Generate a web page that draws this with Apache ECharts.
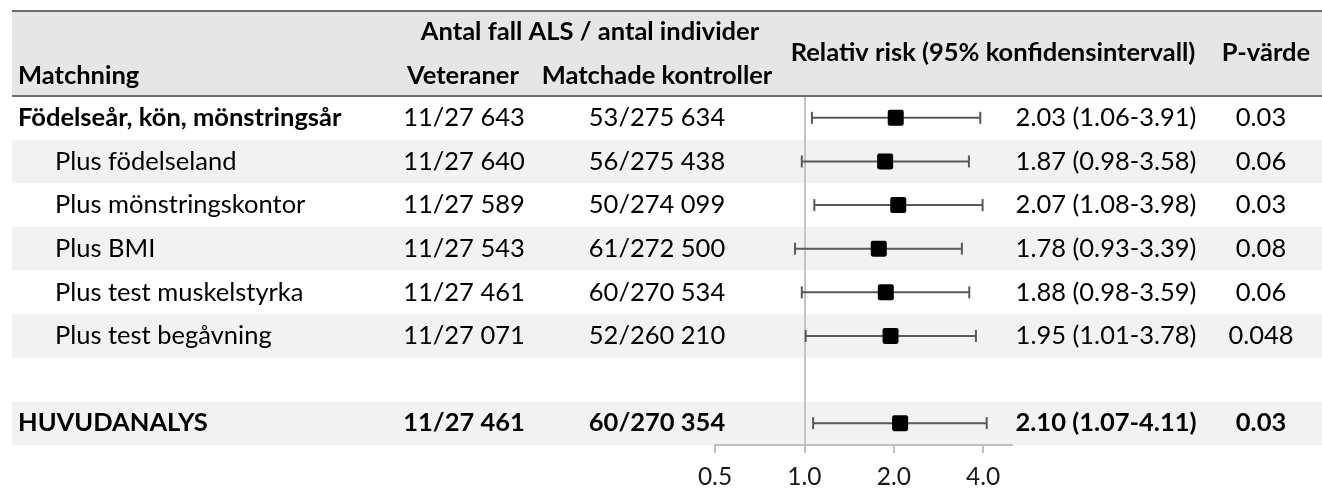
<!DOCTYPE html>
<html>
<head>
<meta charset="utf-8">
<script src="https://cdn.jsdelivr.net/npm/echarts@6/dist/echarts.min.js"></script>
<style>
  html, body { margin: 0; padding: 0; background: #fff; }
  #main { width: 1322px; height: 490px; }
</style>
</head>
<body>
<div id="main"></div>
<script>
// data
const labels = ["Födelseår, kön, mönstringsår", "Plus födelseland", "Plus mönstringskontor", "Plus BMI",
  "Plus test muskelstyrka", "Plus test begåvning", "", "HUVUDANALYS"];
const veteraner = ["11/27 643", "11/27 640", "11/27 589", "11/27 543", "11/27 461", "11/27 071", "", "11/27 461"];
const kontroller = ["53/275 634", "56/275 438", "50/274 099", "61/272 500", "60/270 534", "52/260 210", "", "60/270 354"];
const rr = [2.03, 1.87, 2.07, 1.78, 1.88, 1.95, null, 2.10];
const lower = [1.06, 0.98, 1.08, 0.93, 0.98, 1.01, null, 1.07];
const upper = [3.91, 3.58, 3.98, 3.39, 3.59, 3.78, null, 4.11];
const pValues = ["0.03", "0.06", "0.03", "0.08", "0.06", "0.048", "", "0.03"];
const xTicks = [0.5, 1, 2, 4];
const shadedRows = [1, 3, 5, 7];

const FONT = "Lato";
const FS = 25.5;
const BOLD_ROWS = [7];

const rrText = rr.map((v, i) => v == null ? "" : `${v.toFixed(2)} (${lower[i].toFixed(2)}-${upper[i].toFixed(2)})`);

const chart = echarts.init(document.getElementById("main"));

const gridLeft = 715, gridRight = 310;

// one category axis per table column
function column(data, position, offset, align, formatter) {
  return {
    type: "category",
    data: data,
    inverse: true,
    position: position,
    offset: offset,
    axisLine: { show: false },
    axisTick: { show: false },
    splitLine: { show: false },
    axisLabel: {
      interval: 0,
      margin: 0,
      align: align,
      color: "#000",
      fontFamily: FONT,
      fontSize: FS,
      formatter: formatter || ((v, i) => BOLD_ROWS.includes(i) ? `{b|${v}}` : v),
      rich: {
        b: { fontFamily: FONT, fontSize: FS, fontWeight: "bold", color: "#000" },
        i: { fontFamily: FONT, fontSize: FS, color: "#000", padding: [0, 0, 0, 37] }
      }
    }
  };
}

const rowIdx = labels.map((_, i) => i);
const ciData = rowIdx.filter(i => rr[i] != null).map(i => [lower[i], upper[i], i]);
const pointData = rowIdx.filter(i => rr[i] != null).map(i => [rr[i], i]);

function head(text, x, y, align) {
  return {
    type: "text", x: x, y: y, z: 10,
    style: { text: text, fill: "#000", font: `bold ${FS}px ${FONT}`, textAlign: align, textVerticalAlign: "middle" }
  };
}

const options = {
  animation: false,
  grid: { left: gridLeft, right: gridRight, top: 96, bottom: 45 },
  xAxis: {
    type: "log",
    logBase: 2,
    min: 0.5,
    max: 5,
    axisLine: { show: true, lineStyle: { color: "#bfbfbf", width: 2 } },
    axisTick: { show: true, length: 8, customValues: xTicks, lineStyle: { color: "#bfbfbf", width: 2 } },
    splitLine: { show: false },
    axisLabel: {
      customValues: xTicks,
      formatter: v => Number(v).toFixed(1),
      margin: 20,
      color: "#1a1a1a",
      fontFamily: FONT,
      fontSize: FS - 1
    }
  },
  yAxis: [
    column(labels, "left", gridLeft - 18, "left",
      (v, i) => (i === 0 || i === 7) ? `{b|${v}}` : (v ? `{i|${v}}` : "")),
    column(veteraner, "left", gridLeft - 464, "center"),
    column(kontroller, "left", gridLeft - 657, "center"),
    column(rrText, "right", 1106 - (1322 - gridRight), "center"),
    column(pValues, "right", 1261 - (1322 - gridRight), "center")
  ],
  graphic: [
    { type: "rect", shape: { x: 12, y: 11, width: 1310, height: 85 }, style: { fill: "#e7e6e6" }, z: -10 },
    { type: "line", shape: { x1: 12, y1: 11, x2: 1322, y2: 11 }, style: { stroke: "#6d6d6d", lineWidth: 2 }, z: 5 },
    { type: "line", shape: { x1: 12, y1: 96, x2: 1322, y2: 96 }, style: { stroke: "#6d6d6d", lineWidth: 2 }, z: 5 },
    head("Antal fall ALS / antal individer", 590, 32, "center"),
    head("Matchning", 18, 76, "left"),
    head("Veteraner", 463, 76, "center"),
    head("Matchade kontroller", 657, 76, "center"),
    head("Relativ risk (95% konfidensintervall)", 993, 53, "center"),
    head("P-värde", 1266, 53, "center")
  ],
  series: [
    {
      // alternating row bands
      type: "custom",
      z: -5,
      silent: true,
      clip: false,
      data: shadedRows.map(i => [1, i]),
      encode: { x: 0, y: 1 },
      renderItem: function (params, api) {
        const c = api.coord([1, api.value(1)]);
        const h = api.size([0, 1])[1];
        return {
          type: "rect",
          shape: { x: 12, y: c[1] - h / 2, width: 1310, height: h },
          style: { fill: "#f2f2f2" }
        };
      }
    },
    {
      // confidence intervals
      type: "custom",
      silent: true,
      data: ciData,
      encode: { x: [0, 1], y: 2 },
      renderItem: function (params, api) {
        const a = api.coord([api.value(0), api.value(2)]);
        const b = api.coord([api.value(1), api.value(2)]);
        const st = { stroke: "#595959", lineWidth: 2 };
        return {
          type: "group",
          children: [
            { type: "line", shape: { x1: a[0], y1: a[1], x2: b[0], y2: b[1] }, style: st },
            { type: "line", shape: { x1: a[0], y1: a[1] - 6, x2: a[0], y2: a[1] + 6 }, style: st },
            { type: "line", shape: { x1: b[0], y1: b[1] - 6, x2: b[0], y2: b[1] + 6 }, style: st }
          ]
        };
      }
    },
    {
      type: "scatter",
      data: pointData,
      symbol: "path://M2,0H13Q15,0 15,2V13Q15,15 13,15H2Q0,15 0,13V2Q0,0 2,0Z",
      symbolSize: 16,
      itemStyle: { color: "#000", opacity: 1 },
      z: 4,
      markLine: {
        silent: true,
        symbol: "none",
        label: { show: false },
        lineStyle: { color: "#c4c4c4", width: 2, type: "solid" },
        data: [{ xAxis: 1 }],
        z: 1
      }
    }
  ]
};

chart.setOption(options);
</script>
</body>
</html>
